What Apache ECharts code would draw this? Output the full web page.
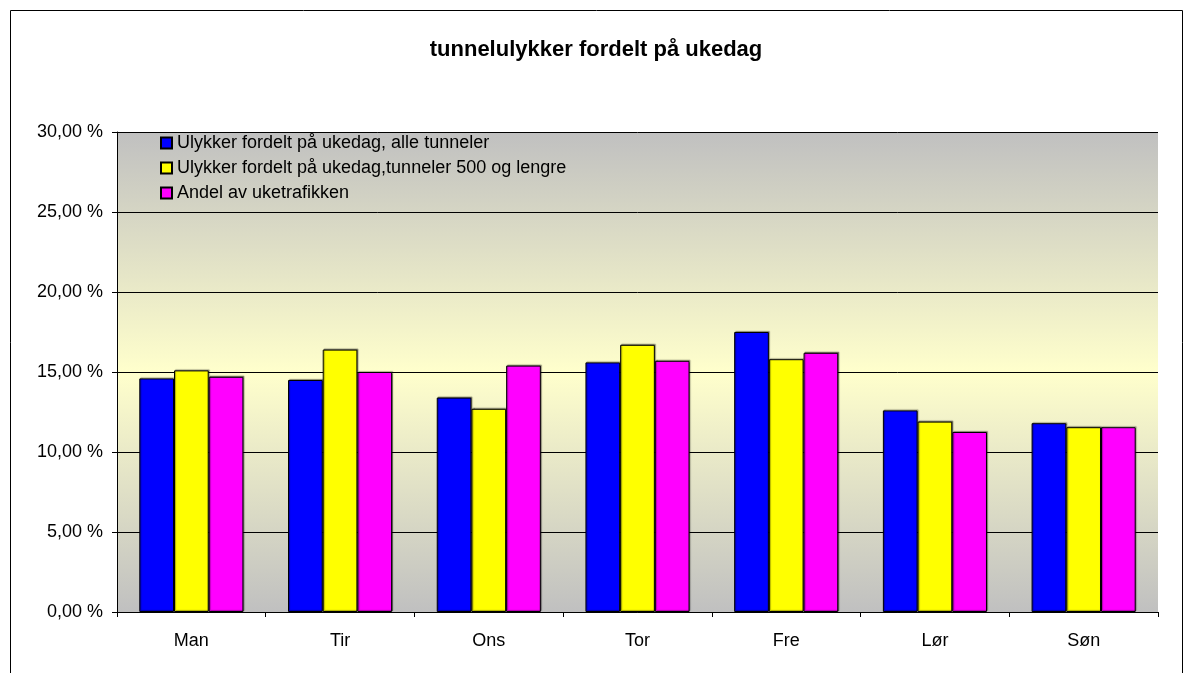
<!DOCTYPE html>
<html>
<head>
<meta charset="utf-8">
<script src="https://cdn.jsdelivr.net/npm/echarts@6/dist/echarts.min.js"></script>
<style>
  html, body { margin: 0; padding: 0; background: #fff; }
  #chart { width: 1192px; height: 673px; }
</style>
</head>
<body>
<div id="chart"></div>
<script>
var days = ['Man', 'Tir', 'Ons', 'Tor', 'Fre', 'Lør', 'Søn'];
var seriesNames = [
  'Ulykker fordelt på ukedag, alle tunneler',
  'Ulykker fordelt på ukedag,tunneler 500 og lengre',
  'Andel av uketrafikken'
];
var alleTunneler = [14.6, 14.5, 13.4, 15.6, 17.5, 12.6, 11.8];
var lange = [15.1, 16.4, 12.7, 16.7, 15.8, 11.9, 11.55];
var trafikk = [14.7, 15.0, 15.4, 15.7, 16.2, 11.25, 11.55];
var colors = ['#0000ff', '#ffff00', '#ff00ff'];

var chart = echarts.init(document.getElementById('chart'));

function barSeries(name, data, color) {
  return {
    name: name,
    type: 'bar',
    data: data,
    barGap: '0%',
    barCategoryGap: '30%',
    itemStyle: {
      color: color,
      borderColor: '#000',
      borderWidth: 1,
      shadowColor: 'rgba(0,0,0,0.35)',
      shadowOffsetX: 1,
      shadowOffsetY: -1,
      shadowBlur: 1
    }
  };
}

chart.setOption({
  animation: false,
  textStyle: { fontFamily: 'Liberation Sans, Arial, sans-serif' },
  title: {
    text: 'tunnelulykker fordelt på ukedag',
    left: 'center',
    top: 34,
    textStyle: { fontSize: 22, fontWeight: 'bold', color: '#000', fontFamily: 'Liberation Sans, Arial, sans-serif' }
  },
  graphic: [{
    type: 'rect',
    shape: { x: 10.5, y: 10.5, width: 1172, height: 700 },
    style: { fill: 'none', stroke: '#000', lineWidth: 1 },
    silent: true
  }],
  legend: {
    orient: 'vertical',
    left: 155,
    top: 129,
    itemWidth: 11,
    itemHeight: 11,
    itemGap: 7,
    icon: 'rect',
    textStyle: { fontSize: 18, color: '#000', padding: [0, 0, 0, 0] },
    data: seriesNames
  },
  grid: {
    left: 117,
    right: 34,
    top: 132,
    bottom: 61,
    show: true,
    borderWidth: 0,
    backgroundColor: new echarts.graphic.LinearGradient(0, 0, 0, 1, [
      { offset: 0, color: '#c0c0c0' },
      { offset: 0.5, color: '#ffffcc' },
      { offset: 1, color: '#c0c0c0' }
    ])
  },
  xAxis: {
    type: 'category',
    data: days,
    axisLine: { lineStyle: { color: '#000', width: 1 } },
    axisTick: { show: true, length: 5, lineStyle: { color: '#000' } },
    axisLabel: { color: '#000', fontSize: 18, margin: 20 }
  },
  yAxis: {
    type: 'value',
    min: 0,
    max: 30,
    interval: 5,
    axisLine: { show: true, lineStyle: { color: '#000', width: 1 } },
    axisTick: { show: true, length: 5, lineStyle: { color: '#000' } },
    axisLabel: {
      color: '#000',
      fontSize: 18,
      margin: 14,
      formatter: function (v) { return v.toFixed(2).replace('.', ',') + ' %'; }
    },
    splitLine: { show: true, lineStyle: { color: '#000', width: 1 } }
  },
  series: [
    barSeries(seriesNames[0], alleTunneler, colors[0]),
    barSeries(seriesNames[1], lange, colors[1]),
    barSeries(seriesNames[2], trafikk, colors[2])
  ]
});
</script>
</body>
</html>
